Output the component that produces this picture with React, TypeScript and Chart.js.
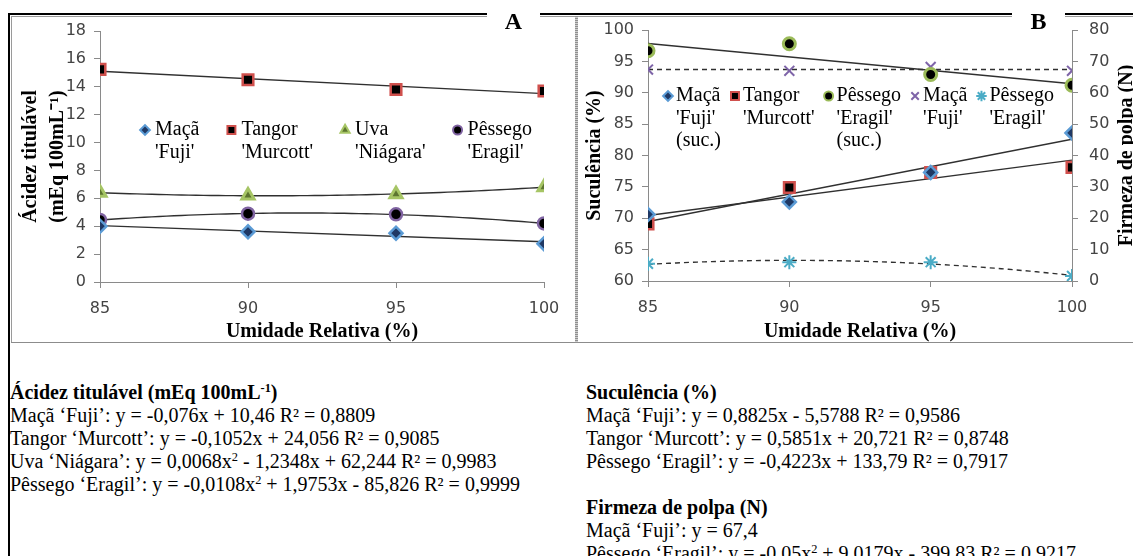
import { useEffect, useRef } from "react";
import { Chart, registerables } from "chart.js";
import { drawPoint } from "chart.js/helpers";

Chart.register(...registerables);

// Relative humidity levels (%)
const humidity = [85, 90, 95, 100];

// Panel A – titratable acidity (mEq 100 mL-1)
const acidFuji = [4.0, 3.6, 3.5, 2.75];
const acidMurcott = [15.25, 14.5, 13.8, 13.7];
const acidNiagara = [6.4, 6.2, 6.3, 6.8];
const acidEragil = [4.45, 4.9, 4.85, 4.2];

// Panel B – juiciness (%), left axis
const sucFuji = [70.6, 72.6, 77.3, 83.6];
const sucMurcott = [69.1, 74.9, 77.3, 78.1];
const sucEragil = [96.7, 97.8, 92.9, 91.2];

// Panel B – flesh firmness (N), right axis
const firmFuji = [67.4, 67.0, 68.2, 67.0];
const firmEragil = [5.5, 6.0, 6.0, 1.6];

const SERIF = "'Liberation Serif', 'Times New Roman', serif";
const SANS = "'DejaVu Sans', 'Open Sans', sans-serif";
const AXIS_GRAY = "#8a8a8a";
const TICK_COLOR = "#444444";
const TREND = "#303030";

const markers: Record<string, any> = {
  fuji: { pointStyle: "rectRot", radius: 6.5, fill: "#1f3864", edge: "#5b9bd5", width: 2.5 },
  murcott: { pointStyle: "rect", radius: 7.5, fill: "#000000", edge: "#d0504d", width: 2.5 },
  niagara: { pointStyle: "triangle", radius: 7, fill: "#5d7530", edge: "#a6c565", width: 3 },
  eragilAcid: { pointStyle: "circle", radius: 6, fill: "#000000", edge: "#8064a2", width: 2.5 },
  eragilSuc: { pointStyle: "circle", radius: 6, fill: "#000000", edge: "#9bbb59", width: 3 },
  fujiFirm: { pointStyle: "crossRot", radius: 7, fill: "rgba(0,0,0,0)", edge: "#7e64a8", width: 2 },
  eragilFirm: { pointStyle: "star", radius: 7, fill: "rgba(0,0,0,0)", edge: "#4bacc6", width: 2 },
};

// Least-squares polynomial fit (degree 0..2) on centred x values
function fitPolynomial(xs: number[], ys: number[], degree: number) {
  const mean = xs.reduce((a, b) => a + b, 0) / xs.length;
  const n = degree + 1;
  const A = Array.from({ length: n }, () => new Array(n + 1).fill(0));
  xs.forEach((x, k) => {
    const t = x - mean;
    for (let i = 0; i < n; i++) {
      for (let j = 0; j < n; j++) A[i][j] += Math.pow(t, i + j);
      A[i][n] += Math.pow(t, i) * ys[k];
    }
  });
  for (let c = 0; c < n; c++) {
    let p = c;
    for (let r = c + 1; r < n; r++) if (Math.abs(A[r][c]) > Math.abs(A[p][c])) p = r;
    [A[c], A[p]] = [A[p], A[c]];
    for (let r = 0; r < n; r++) {
      if (r === c) continue;
      const f = A[r][c] / A[c][c];
      for (let k = c; k <= n; k++) A[r][k] -= f * A[c][k];
    }
  }
  const coef = A.map((row, i) => row[n] / row[i]);
  return (x: number) => coef.reduce((s, c, i) => s + c * Math.pow(x - mean, i), 0);
}

function pointSeries(label: string, ys: number[], st: any, yAxisID = "y") {
  return {
    label,
    legendLines: label.split("\n"),
    data: humidity.map((x, i) => ({ x, y: ys[i] })),
    yAxisID,
    showLine: false,
    order: 0,
    pointStyle: st.pointStyle,
    pointRadius: st.radius,
    pointHoverRadius: st.radius,
    pointBackgroundColor: st.fill,
    pointBorderColor: st.edge,
    pointBorderWidth: st.width,
    backgroundColor: st.fill,
    borderColor: st.edge,
    borderWidth: st.width,
  };
}

function trendSeries(ys: number[], degree: number, yAxisID = "y", dash: number[] = []) {
  const f = fitPolynomial(humidity, ys, degree);
  const lo = humidity[0];
  const hi = humidity[humidity.length - 1];
  const steps = degree < 2 ? 1 : 60;
  const data = Array.from({ length: steps + 1 }, (_, k) => {
    const x = lo + ((hi - lo) * k) / steps;
    return { x, y: f(x) };
  });
  return {
    label: "",
    data,
    yAxisID,
    showLine: true,
    order: 1,
    pointRadius: 0,
    pointHoverRadius: 0,
    borderColor: TREND,
    backgroundColor: TREND,
    borderWidth: 1.4,
    borderDash: dash,
    tension: 0,
    fill: false,
  };
}

// Multi-line legend drawn inside the plot area
const inlineLegend = {
  id: "inlineLegend",
  afterDatasetsDraw(chart: any, _args: any, opts: any) {
    if (!opts || !opts.display) return;
    const { ctx, chartArea } = chart;
    ctx.save();
    ctx.font = opts.font;
    ctx.textBaseline = "middle";
    ctx.textAlign = "left";
    let x = chartArea.left + opts.offsetX;
    const y0 = chartArea.top + opts.offsetY;
    chart.data.datasets.forEach((ds: any) => {
      if (!ds.legendLines) return;
      ctx.fillStyle = ds.backgroundColor;
      ctx.strokeStyle = ds.borderColor;
      ctx.lineWidth = Math.min(ds.borderWidth, 2);
      drawPoint(
        ctx,
        { pointStyle: ds.pointStyle, rotation: 0, radius: ds.pointRadius * opts.markerScale, borderWidth: ds.borderWidth },
        x,
        y0
      );
      ctx.fillStyle = opts.color;
      let w = 0;
      ds.legendLines.forEach((line: string, i: number) => {
        ctx.fillText(line, x + opts.textGap, y0 + i * opts.lineHeight);
        w = Math.max(w, ctx.measureText(line).width);
      });
      x += opts.textGap + w + opts.itemGap;
    });
    ctx.restore();
  },
};

// Right-hand axis title, reading bottom to top
const sideTitle = {
  id: "sideTitle",
  afterDraw(chart: any, _args: any, opts: any) {
    if (!opts || !opts.text) return;
    const { ctx, chartArea } = chart;
    ctx.save();
    ctx.translate(chart.width - opts.offsetFromRight, (chartArea.top + chartArea.bottom) / 2);
    ctx.rotate(-Math.PI / 2);
    ctx.font = opts.font;
    ctx.fillStyle = opts.color;
    ctx.textAlign = "center";
    ctx.textBaseline = "middle";
    ctx.fillText(opts.text, 0, 0);
    ctx.restore();
  },
};

const tickFont = { family: SANS, size: 16 };
const titleFont = { family: SERIF, size: 20, weight: "bold" as const, lineHeight: 1.35 };

function xScale(height: number, pad: number) {
  return {
    type: "linear",
    min: 85,
    max: 100,
    ticks: { stepSize: 5, color: TICK_COLOR, font: tickFont, padding: pad, maxRotation: 0 },
    grid: { drawOnChartArea: false, drawTicks: true, tickLength: 6, color: AXIS_GRAY },
    border: { display: true, color: AXIS_GRAY, width: 1 },
    title: {
      display: true,
      text: "Umidade Relativa (%)",
      color: "#000",
      font: { family: SERIF, size: 20, weight: "bold", lineHeight: 1.0 },
      padding: { top: 0, bottom: 0 },
    },
    afterFit: (s: any) => {
      s.height = height;
      s.paddingLeft = 0;
      s.paddingRight = 0;
    },
  };
}

function yScale(
  min: number,
  max: number,
  step: number,
  width: number,
  title: any,
  padTop: number,
  tickPad: number,
  position = "left",
  dash: number[] = []
) {
  return {
    type: "linear",
    position,
    min,
    max,
    ticks: { stepSize: step, color: TICK_COLOR, font: tickFont, padding: tickPad },
    grid: { drawOnChartArea: false, drawTicks: true, tickLength: 6, color: AXIS_GRAY },
    border: { display: true, color: AXIS_GRAY, width: 1, dash },
    title: title
      ? { display: true, text: title, color: "#000", font: titleFont, padding: { top: padTop, bottom: 0 } }
      : { display: false },
    afterFit: (s: any) => {
      s.width = width;
      s.paddingTop = 0;
      s.paddingBottom = 0;
    },
  };
}

const configA: any = {
  type: "scatter",
  data: {
    datasets: [
      pointSeries("Maçã\n'Fuji'", acidFuji, markers.fuji),
      pointSeries("Tangor\n'Murcott'", acidMurcott, markers.murcott),
      pointSeries("Uva\n'Niágara'", acidNiagara, markers.niagara),
      pointSeries("Pêssego\n'Eragil'", acidEragil, markers.eragilAcid),
      trendSeries(acidFuji, 1),
      trendSeries(acidMurcott, 1),
      trendSeries(acidNiagara, 2),
      trendSeries(acidEragil, 2),
    ],
  },
  options: {
    responsive: false,
    animation: false,
    events: [],
    layout: { padding: { top: 14, right: 30, left: 0, bottom: 0 } },
    scales: {
      x: xScale(60, 11),
      y: yScale(0, 18, 2, 88, ["Ácidez titulável", "(mEq 100mL⁻¹)"], 5, 8),
    },
    plugins: {
      legend: { display: false },
      tooltip: { enabled: false },
      inlineLegend: {
        display: true,
        font: `20px ${SERIF}`,
        color: "#000",
        offsetX: 45,
        offsetY: 99,
        textGap: 10,
        itemGap: 32,
        lineHeight: 23,
        markerScale: 0.75,
      },
    },
  },
  plugins: [inlineLegend],
};

const configB: any = {
  type: "scatter",
  data: {
    datasets: [
      pointSeries("Maçã\n'Fuji'\n(suc.)", sucFuji, markers.fuji),
      pointSeries("Tangor\n'Murcott'", sucMurcott, markers.murcott),
      pointSeries("Pêssego\n'Eragil'\n(suc.)", sucEragil, markers.eragilSuc),
      pointSeries("Maçã\n'Fuji'", firmFuji, markers.fujiFirm, "y1"),
      pointSeries("Pêssego\n'Eragil'", firmEragil, markers.eragilFirm, "y1"),
      trendSeries(sucFuji, 1),
      trendSeries(sucMurcott, 1),
      trendSeries(sucEragil, 1),
      trendSeries(firmFuji, 0, "y1", [5, 4]),
      trendSeries(firmEragil, 2, "y1", [5, 4]),
    ],
  },
  options: {
    responsive: false,
    animation: false,
    events: [],
    layout: { padding: { top: 13, right: 0, left: 0, bottom: 0 } },
    scales: {
      x: xScale(61, 11),
      y: yScale(60, 100, 5, 70, "Suculência (%)", 3, 8),
      y1: yScale(0, 80, 10, 61, null, 0, 11, "right", [4, 4]),
    },
    plugins: {
      legend: { display: false },
      tooltip: { enabled: false },
      inlineLegend: {
        display: true,
        font: `20px ${SERIF}`,
        color: "#000",
        offsetX: 20,
        offsetY: 66,
        textGap: 8,
        itemGap: 14,
        lineHeight: 22.5,
        markerScale: 0.75,
      },
      sideTitle: {
        text: "Firmeza de polpa (N)",
        font: `bold 20px ${SERIF}`,
        color: "#000",
        offsetFromRight: 6,
      },
    },
  },
  plugins: [inlineLegend, sideTitle],
};

function ChartCanvas({ config, left, top, width, height }: any) {
  const ref = useRef<HTMLCanvasElement>(null);
  useEffect(() => {
    const chart = new Chart(ref.current as HTMLCanvasElement, config);
    return () => chart.destroy();
  }, [config]);
  return (
    <canvas
      ref={ref}
      width={width}
      height={height}
      style={{ position: "absolute", left, top, width, height, display: "block" }}
    />
  );
}

const sup = { fontSize: "0.62em", lineHeight: 0, verticalAlign: "0.55em" } as const;

function Line({ left, top, width, height, color }: any) {
  return <div style={{ position: "absolute", left, top, width, height, background: color }} />;
}

const letterStyle = {
  position: "absolute" as const,
  top: 8,
  width: 53,
  textAlign: "center" as const,
  fontFamily: SERIF,
  fontWeight: "bold" as const,
  fontSize: 24,
  lineHeight: "26px",
};

export default function App() {
  const textStyle = {
    position: "absolute" as const,
    fontFamily: SERIF,
    fontSize: 20,
    lineHeight: "23px",
    color: "#000",
    whiteSpace: "nowrap" as const,
  };
  return (
    <div
      style={{
        position: "absolute",
        left: 0,
        top: 0,
        width: 1133,
        height: 556,
        overflow: "hidden",
        background: "#fff",
      }}
    >
      {/* outer black frame (top and left) with gaps for the panel letters */}
      <Line left={8} top={13} width={479} height={2} color="#000" />
      <Line left={540} top={13} width={472} height={2} color="#000" />
      <Line left={1065} top={13} width={68} height={2} color="#000" />
      <Line left={8} top={13} width={2} height={543} color="#000" />

      {/* panel frames */}
      <Line left={11} top={16} width={476} height={1} color="#9a9a9a" />
      <Line left={540} top={16} width={472} height={1} color="#9a9a9a" />
      <Line left={1065} top={16} width={68} height={1} color="#9a9a9a" />
      <Line left={11} top={16} width={1} height={327} color="#9a9a9a" />
      <Line left={11} top={342} width={1122} height={1} color="#8c8c8c" />
      <div
        style={{
          position: "absolute",
          left: 575,
          top: 16,
          width: 3,
          height: 327,
          background: "repeating-linear-gradient(to bottom, #8f8f8f 0px, #8f8f8f 1px, #cdcdcd 1px, #cdcdcd 2px)",
        }}
      />

      <ChartCanvas config={configA} left={12} top={17} width={562} height={325} />
      <ChartCanvas config={configB} left={578} top={17} width={555} height={325} />

      {/* panel letters */}
      <div style={{ ...letterStyle, left: 487 }}>A</div>
      <div style={{ ...letterStyle, left: 1012 }}>B</div>

      {/* fitted equations */}
      <div style={{ ...textStyle, left: 10, top: 381 }}>
        <div style={{ fontWeight: "bold" }}>
          Ácidez titulável (mEq 100mL<sup style={sup}>-1</sup>)
        </div>
        <div>Maçã ‘Fuji’: y = -0,076x + 10,46 R² = 0,8809</div>
        <div>Tangor ‘Murcott’: y = -0,1052x + 24,056 R² = 0,9085</div>
        <div>
          Uva ‘Niágara’: y = 0,0068x<sup style={sup}>2</sup> - 1,2348x + 62,244 R² = 0,9983
        </div>
        <div>
          Pêssego ‘Eragil’: y = -0,0108x<sup style={sup}>2</sup> + 1,9753x - 85,826 R² = 0,9999
        </div>
      </div>
      <div style={{ ...textStyle, left: 586, top: 381 }}>
        <div style={{ fontWeight: "bold" }}>Suculência (%)</div>
        <div>Maçã ‘Fuji’: y = 0,8825x - 5,5788 R² = 0,9586</div>
        <div>Tangor ‘Murcott’: y = 0,5851x + 20,721 R² = 0,8748</div>
        <div>Pêssego ‘Eragil’: y = -0,4223x + 133,79 R² = 0,7917</div>
        <div>&nbsp;</div>
        <div style={{ fontWeight: "bold" }}>Firmeza de polpa (N)</div>
        <div>Maçã ‘Fuji’: y = 67,4</div>
        <div>
          Pêssego ‘Eragil’: y = -0,05x<sup style={sup}>2</sup> + 9,0179x - 399,83 R² = 0,9217
        </div>
      </div>
    </div>
  );
}
